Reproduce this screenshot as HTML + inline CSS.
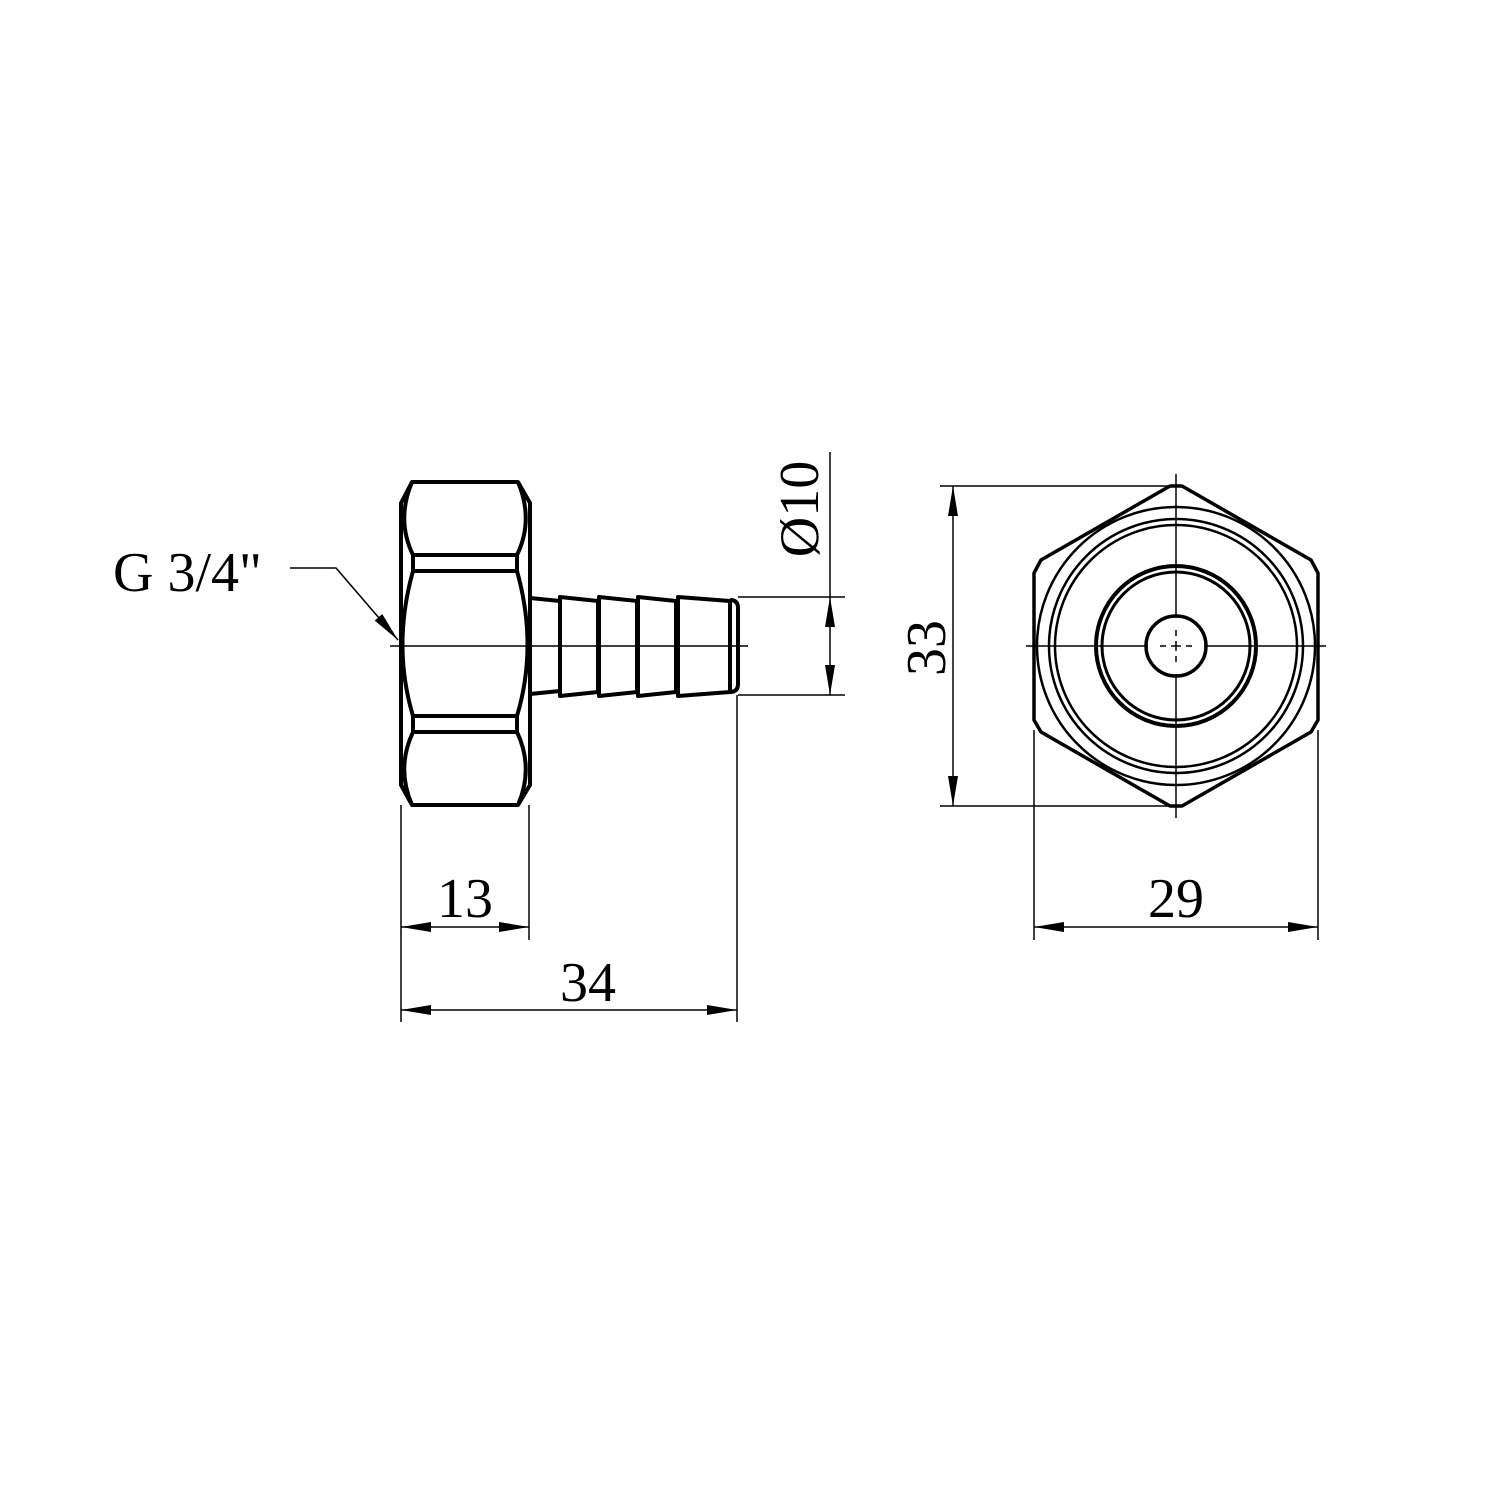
<!DOCTYPE html>
<html><head><meta charset="utf-8"><style>body{margin:0;background:#fff}svg{display:block}text{font-family:"Liberation Serif",serif;fill:#000}</style></head>
<body>
<svg width="1500" height="1500" viewBox="0 0 1500 1500" xmlns="http://www.w3.org/2000/svg">
<defs>
<marker id="a" viewBox="0 0 30 10" refX="30" refY="5" markerWidth="30" markerHeight="10" markerUnits="userSpaceOnUse" orient="auto"><path d="M0,0L30,5L0,10z" fill="#000"/></marker>
</defs>
<g fill="none" stroke="#000" stroke-width="4" stroke-linejoin="round">
<path d="M412,482H518L530,503V785L518,805H412L401,785V503Z"/>
<path d="M412,482Q396,520 413,555H517Q534,520 518,482"/>
<path d="M412,805Q396,768 413,732H517Q534,768 518,805"/>
<path d="M413,555V571H517V555M413,732V716H517V732"/>
<path d="M413,571Q392,646 413,716M517,571Q538,646 517,716"/>
<path d="M530,598L560,601M530,694L560,691"/>
<path d="M560,597V696L598,692V601Z"/>
<path d="M599,597V696L637,692V601Z"/>
<path d="M638,597V696L676,692V601Z"/>
<path d="M678,597V696L730,692V601Z"/>
<path d="M730,600Q738,600 738,608V684Q738,692 730,692"/>
<path d="M1170,486H1182L1311,560L1318,573V720L1311,732L1182,806H1170L1041,732L1034,720V573L1041,560Z" stroke-width="3.5"/>
<circle cx="1176" cy="646" r="30" stroke-width="3.5"/>
<circle cx="1176" cy="646" r="80" stroke-width="4"/>
<circle cx="1176" cy="646" r="74" stroke-width="3"/>
</g>
<g fill="none" stroke="#000" stroke-width="2.5">
<circle cx="1176" cy="646" r="139"/>
<circle cx="1176" cy="646" r="127"/>
<circle cx="1176" cy="646" r="121"/>
</g>
<g fill="none" stroke="#000" stroke-width="1.5">
<path d="M390,646H748"/>
<path d="M1026,646H1148M1204,646H1326M1176,474V618M1176,674V818"/>
<path d="M1160,646H1166M1171,646H1181M1186,646H1192M1176,630V636M1176,641V651M1176,656V662"/>
<path d="M290,568H336L398,640" marker-end="url(#a)"/>
<path d="M738,597H845M738,695H845M830,452V597"/>
<path d="M830,646V597" marker-end="url(#a)"/>
<path d="M830,646V695" marker-end="url(#a)"/>
<path d="M940,486H1176M940,806H1176"/>
<path d="M953,646V486" marker-end="url(#a)"/>
<path d="M953,646V806" marker-end="url(#a)"/>
<path d="M1034,730V940M1318,730V940"/>
<path d="M1176,927H1034" marker-end="url(#a)"/>
<path d="M1176,927H1318" marker-end="url(#a)"/>
<path d="M401,805V1022M529,805V940M737,695V1022"/>
<path d="M465,927H401" marker-end="url(#a)"/>
<path d="M465,927H529" marker-end="url(#a)"/>
<path d="M569,1010H401" marker-end="url(#a)"/>
<path d="M569,1010H737" marker-end="url(#a)"/>
</g>
<g font-size="56">
<text x="113" y="591">G 3/4"</text>
<text x="465" y="917" text-anchor="middle">13</text>
<text x="588" y="1001" text-anchor="middle">34</text>
<text x="1176" y="917" text-anchor="middle">29</text>
<text transform="translate(945,648) rotate(-90)" text-anchor="middle">33</text>
<text transform="translate(818,509) rotate(-90)" text-anchor="middle">Ø10</text>
</g>
</svg>
</body></html>
